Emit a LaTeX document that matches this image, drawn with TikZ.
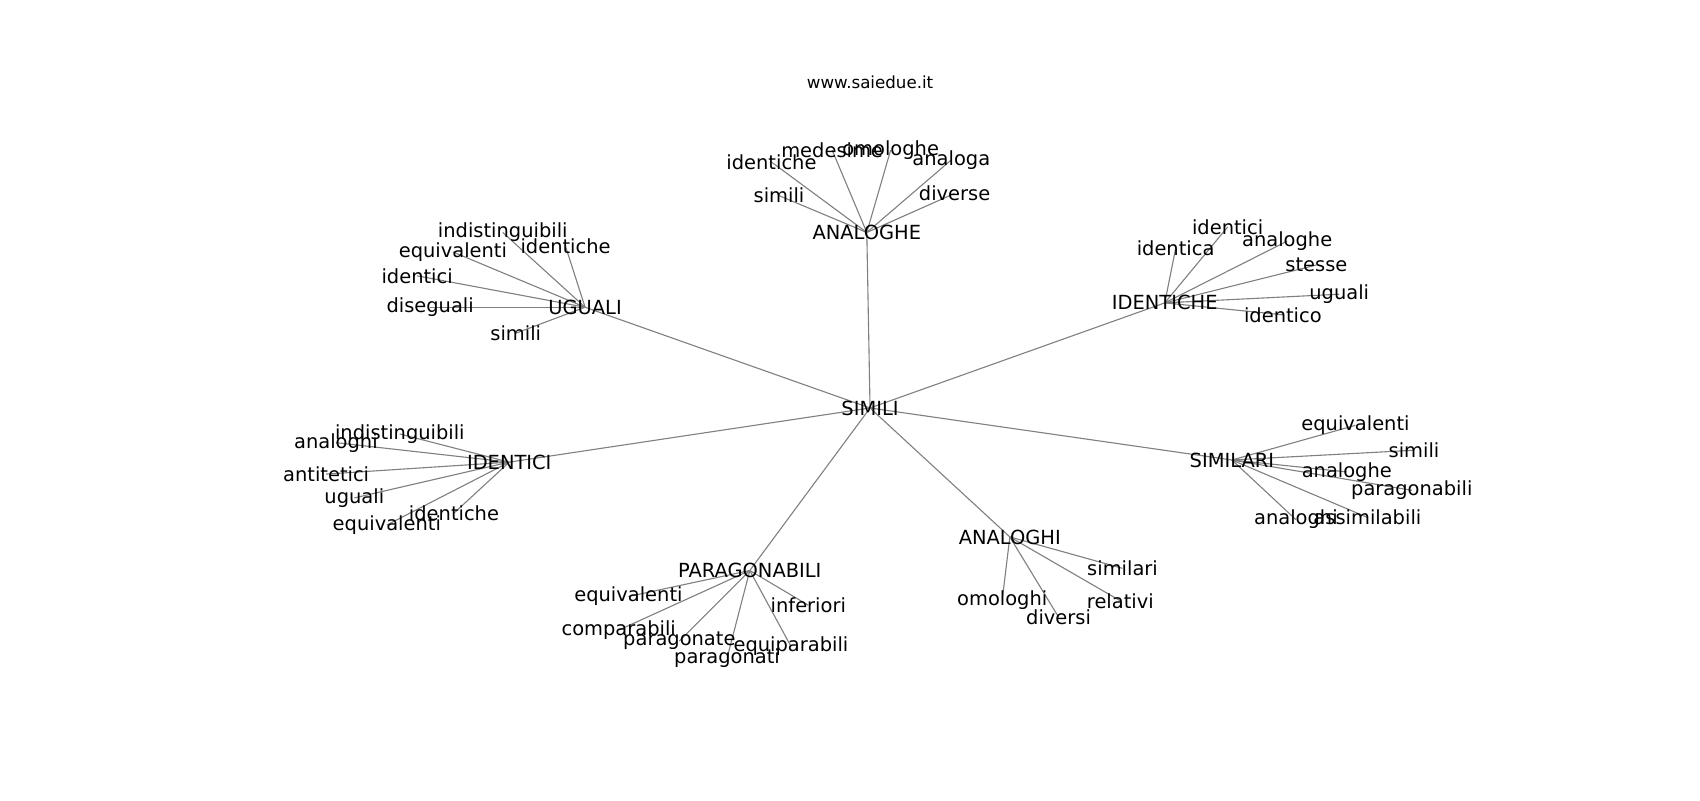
\documentclass[tikz,border=0pt]{standalone}
\usepackage{fontspec}
\setmainfont{DejaVu Sans}
\usetikzlibrary{backgrounds}
\begin{document}
\begin{tikzpicture}[x=0.7801pt,y=-0.7801pt,
  lbl/.style={inner sep=0pt,anchor=center,yshift=-1.2pt,font=\fontsize{14pt}{16pt}\selectfont,text=black},
  ttl/.style={inner sep=0pt,anchor=center,yshift=-0.8pt,font=\fontsize{12pt}{14pt}\selectfont,text=black},
  edge/.style={draw=black!50,line width=0.8pt}]
\useasboundingbox (0,0) rectangle (1569,738.4);
\node[ttl] (title) at (803,75) {www.saiedue.it};
% hubs
\node[lbl] (simili) at (803,375) {SIMILI};
\node[lbl] (analoghe) at (800,213) {ANALOGHE};
\node[lbl] (uguali) at (540,282) {UGUALI};
\node[lbl] (identiche) at (1075,278) {IDENTICHE};
\node[lbl] (identici) at (470,425) {IDENTICI};
\node[lbl] (similari) at (1137,423) {SIMILARI};
\node[lbl] (paragonabili) at (692,525) {PARAGONABILI};
\node[lbl] (analoghi) at (932,494) {ANALOGHI};
% ANALOGHE leaves
\node[lbl] (a1) at (712,148) {identiche};
\node[lbl] (a2) at (768,137) {medesime};
\node[lbl] (a3) at (822,137) {omologhe};
\node[lbl] (a4) at (878,146) {analoga};
\node[lbl] (a5) at (719,179) {simili};
\node[lbl] (a6) at (881,177) {diverse};
% UGUALI leaves
\node[lbl] (u1) at (464,213) {indistinguibili};
\node[lbl] (u2) at (522,226) {identiche};
\node[lbl] (u3) at (418,231) {equivalenti};
\node[lbl] (u4) at (385,253) {identici};
\node[lbl] (u5) at (397,282) {diseguali};
\node[lbl] (u6) at (476,306) {simili};
% IDENTICHE leaves
\node[lbl] (h1) at (1133,208) {identici};
\node[lbl] (h2) at (1085,228) {identica};
\node[lbl] (h3) at (1188,221) {analoghe};
\node[lbl] (h4) at (1215,243) {stesse};
\node[lbl] (h5) at (1236,270) {uguali};
\node[lbl] (h6) at (1184,289) {identico};
% IDENTICI leaves
\node[lbl] (i1) at (369,399) {indistinguibili};
\node[lbl] (i2) at (310,407) {analoghi};
\node[lbl] (i3) at (301,436) {antitetici};
\node[lbl] (i4) at (327,458) {uguali};
\node[lbl] (i5) at (419,472) {identiche};
\node[lbl] (i6) at (357,483) {equivalenti};
% SIMILARI leaves
\node[lbl] (s1) at (1251,391) {equivalenti};
\node[lbl] (s2) at (1305,414) {simili};
\node[lbl] (s3) at (1243,434) {analoghe};
\node[lbl] (s4) at (1303,451) {paragonabili};
\node[lbl] (s5) at (1262,476) {assimilabili};
\node[lbl] (s6) at (1196,478) {analoghi};
% PARAGONABILI leaves
\node[lbl] (p1) at (580,549) {equivalenti};
\node[lbl] (p2) at (746,557) {inferiori};
\node[lbl] (p3) at (571,580) {comparabili};
\node[lbl] (p4) at (627,590) {paragonate};
\node[lbl] (p5) at (730,595) {equiparabili};
\node[lbl] (p6) at (671,606) {paragonati};
% ANALOGHI leaves
\node[lbl] (g1) at (1036,523) {similari};
\node[lbl] (g2) at (925,552) {omologhi};
\node[lbl] (g3) at (1034,553) {relativi};
\node[lbl] (g4) at (977,568) {diversi};
\begin{pgfonlayer}{background}
\foreach \h in {analoghe,uguali,identiche,identici,similari,paragonabili,analoghi}
  \draw[edge] (simili.center) -- (\h.center);
\foreach \l in {a1,a2,a3,a4,a5,a6} \draw[edge] (analoghe.center) -- (\l.center);
\foreach \l in {u1,u2,u3,u4,u5,u6} \draw[edge] (uguali.center) -- (\l.center);
\foreach \l in {h1,h2,h3,h4,h5,h6} \draw[edge] (identiche.center) -- (\l.center);
\foreach \l in {i1,i2,i3,i4,i5,i6} \draw[edge] (identici.center) -- (\l.center);
\foreach \l in {s1,s2,s3,s4,s5,s6} \draw[edge] (similari.center) -- (\l.center);
\foreach \l in {p1,p2,p3,p4,p5,p6} \draw[edge] (paragonabili.center) -- (\l.center);
\foreach \l in {g1,g2,g3,g4} \draw[edge] (analoghi.center) -- (\l.center);
\end{pgfonlayer}
\end{tikzpicture}
\end{document}
